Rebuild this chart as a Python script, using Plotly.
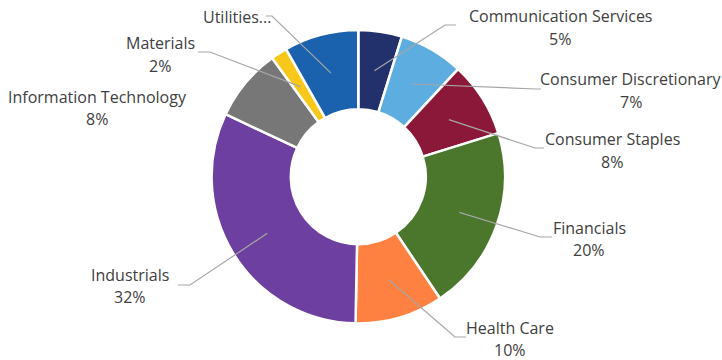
import math
import plotly.graph_objects as go

# ---- data ----
sectors = ["Communication Services", "Consumer Discretionary", "Consumer Staples",
           "Financials", "Health Care", "Industrials", "Information Technology",
           "Materials", "Utilities"]
weights = [4.8, 7.1, 8.3, 20.4, 9.7, 31.7, 8.0, 1.8, 8.2]
label_names = ["Communication Services", "Consumer Discretionary", "Consumer Staples",
               "Financials", "Health Care", "Industrials", "Information Technology",
               "Materials", "Utilities..."]
show_pct = [True, True, True, True, True, True, True, True, False]
colors = ["#22316C", "#5DADE0", "#8B1838", "#4A772B", "#FF8141",
          "#6C3FA0", "#777777", "#F7C81A", "#1B62AE"]

# ---- layout (pixels) ----
W, H = 722, 360
CX, CY, R = 358.3, 176.7, 146.7
HOLE = 0.46
# label text centre x, first line y, second line y, elbow point, line end
label_pos = [
    (560, 16, 39, (445, 25), (456, 25)),
    (631, 79, 102, (536, 89), (541, 89)),
    (612, 139, 162, (535, 148), (544, 148)),
    (589, 228, 250, (540, 237), (552, 237)),
    (510, 328, 350, (455, 337), (466, 337)),
    (130, 275, 297, (190, 285), (178, 285)),
    (97, 97, 119, None, None),
    (160, 43, 66, (210, 52), (198, 52)),
    (237, 17, None, (272, 16), (266, 16)),
]

def px(x):
    return x / W

def py(y):
    return 1 - y / H

fig = go.Figure(go.Pie(
    labels=sectors, values=weights, hole=HOLE, sort=False,
    direction="clockwise", rotation=0, textinfo="none",
    marker=dict(colors=colors, line=dict(color="white", width=2.5)),
    domain=dict(x=[px(CX - R), px(CX + R)], y=[py(CY + R), py(CY - R)]),
    hoverinfo="label+percent", showlegend=False,
))

total = sum(weights)
cum = 0.0
annotations = []
shapes = []
font = dict(family="Open Sans, Segoe UI, sans-serif", size=16, color="#404040")
for i, v in enumerate(weights):
    mid = (cum + v / 2) / total * 2 * math.pi
    cum += v
    r_mid = R * (1 + HOLE) / 2
    sx = CX + r_mid * math.sin(mid)
    sy = CY - r_mid * math.cos(mid)
    tx, ty1, ty2, elbow, end = label_pos[i]
    annotations.append(dict(x=px(tx), y=py(ty1), xref="paper", yref="paper",
                            text=label_names[i], showarrow=False, font=font,
                            xanchor="center", yanchor="middle"))
    if show_pct[i] and ty2 is not None:
        pct = round(v / total * 100)
        annotations.append(dict(x=px(tx), y=py(ty2), xref="paper", yref="paper",
                                text=f"{pct}%", showarrow=False, font=font,
                                xanchor="center", yanchor="middle"))
    if elbow is not None:
        path = (f"M {px(sx)} {py(sy)} L {px(elbow[0])} {py(elbow[1])} "
                f"L {px(end[0])} {py(end[1])}")
        shapes.append(dict(type="path", xref="paper", yref="paper", path=path,
                           line=dict(color="#A6A6A6", width=1.2)))

fig.update_layout(
    width=W, height=H, margin=dict(l=0, r=0, t=0, b=0),
    paper_bgcolor="white", plot_bgcolor="white",
    annotations=annotations, shapes=shapes,
)
fig.write_html("out.html")
